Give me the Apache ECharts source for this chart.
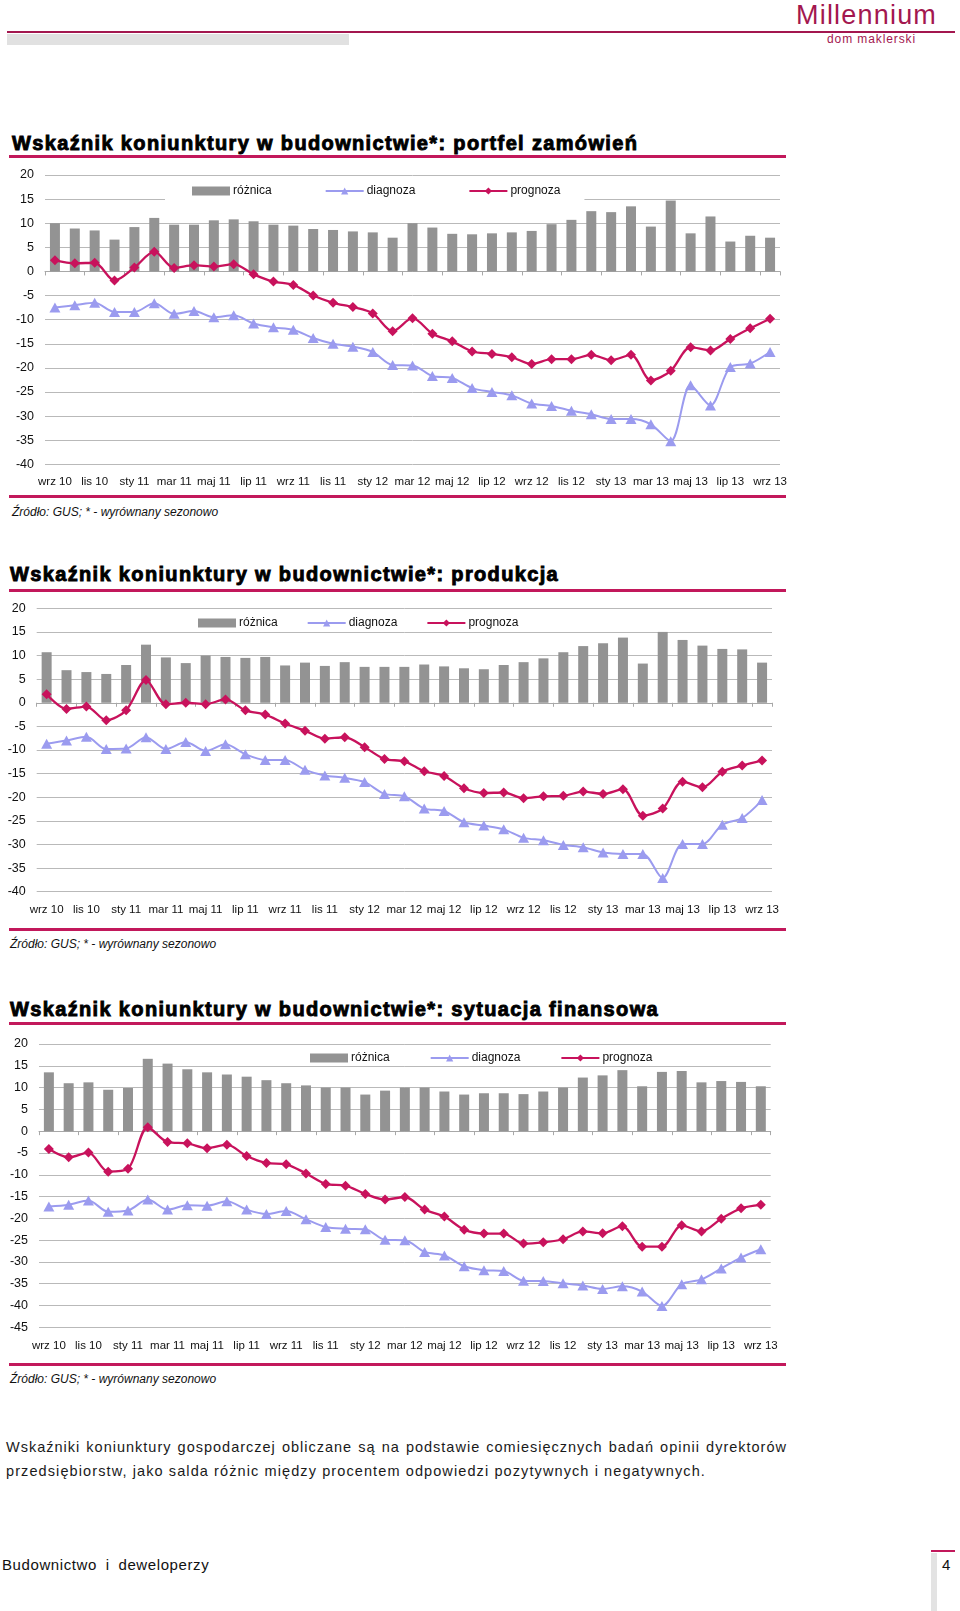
<!DOCTYPE html>
<html>
<head>
<meta charset="utf-8">
<script src="https://cdn.jsdelivr.net/npm/echarts@6/dist/echarts.min.js"></script>
<style>
  html, body { margin: 0; padding: 0; background: #fff; }
  body { width: 960px; height: 1611px; position: relative; overflow: hidden; font-family: 'Liberation Sans', Arial, sans-serif; color: #111; }
  .abs { position: absolute; }
  .title { font-size: 20px; font-weight: bold; letter-spacing: 1.35px; -webkit-text-stroke: 0.9px #000; color: #000; line-height: 24px; white-space: nowrap; }
  .mline { height: 3px; background: #c2185b; left: 9px; width: 777px; }
  .src { font-size: 12px; font-style: italic; line-height: 14px; white-space: nowrap; color: #111; }
  .chart { left: 0; width: 960px; height: 335px; }
</style>
</head>
<body>
<script>
// ---------------- DATA ----------------
const categories = [
  'wrz 10','paź 10','lis 10','gru 10','sty 11','lut 11','mar 11','kwi 11','maj 11','cze 11','lip 11','sie 11',
  'wrz 11','paź 11','lis 11','gru 11','sty 12','lut 12','mar 12','kwi 12','maj 12','cze 12','lip 12','sie 12',
  'wrz 12','paź 12','lis 12','gru 12','sty 13','lut 13','mar 13','kwi 13','maj 13','cze 13','lip 13','sie 13','wrz 13'
];
const seriesNames = ['różnica', 'diagnoza', 'prognoza'];

// Portfel zamówień
const portfelRoznica = [10.0, 8.9, 8.5, 6.6, 9.2, 11.1, 9.7, 9.7, 10.6, 10.8, 10.4, 9.7, 9.5, 8.8, 8.6, 8.3, 8.1, 7.0, 10.0, 9.1, 7.8, 7.7,
  7.9, 8.1, 8.4, 9.8, 10.7, 12.5, 12.3, 13.5, 9.3, 14.7, 7.9, 11.4, 6.2, 7.4, 7.0];
const portfelDiagnoza = [-7.5, -7.0, -6.5, -8.4, -8.4, -6.6, -8.8, -8.2, -9.5, -9.1, -10.8, -11.6, -12.1, -13.8, -15.0, -15.6, -16.7, -19.4, -19.5, -21.7, -22.1, -24.2,
  -25.0, -25.7, -27.4, -27.9, -28.9, -29.6, -30.6, -30.6, -31.7, -35.2, -23.6, -27.8, -19.8, -19.1, -16.7];
const portfelPrognoza = [2.3, 1.7, 1.8, -1.9, 0.8, 4.1, 0.7, 1.3, 1.0, 1.5, -0.6, -2.1, -2.8, -5.0, -6.5, -7.4, -8.7, -12.4, -9.7, -12.9, -14.5, -16.6,
  -17.1, -17.8, -19.2, -18.2, -18.2, -17.3, -18.4, -17.3, -22.6, -20.6, -15.7, -16.4, -14.0, -11.8, -9.8];

// Produkcja
const produkcjaRoznica = [10.7, 6.9, 6.5, 6.1, 8.0, 12.3, 9.6, 8.4, 10.0, 9.7, 9.5, 9.7, 7.9, 8.5, 7.8, 8.6, 7.6, 7.6, 7.6, 8.1, 7.7, 7.3,
  7.1, 8.0, 8.6, 9.4, 10.7, 12.0, 12.6, 13.8, 8.3, 15.0, 13.3, 12.1, 11.4, 11.3, 8.5];
const produkcjaDiagnoza = [-8.7, -8.0, -7.2, -9.8, -9.7, -7.3, -9.8, -8.3, -10.2, -8.8, -10.9, -12.1, -12.1, -14.2, -15.4, -15.9, -16.8, -19.3, -19.8, -22.4, -22.9, -25.3,
  -26.0, -26.8, -28.6, -29.1, -30.1, -30.6, -31.7, -32.0, -32.0, -37.1, -29.9, -29.9, -25.8, -24.4, -20.6];
const produkcjaPrognoza = [1.8, -1.3, -0.8, -3.7, -1.6, 4.8, -0.3, 0.0, -0.3, 0.7, -1.6, -2.5, -4.4, -5.9, -7.6, -7.3, -9.4, -11.9, -12.4, -14.5, -15.5, -18.1,
  -19.1, -19.0, -20.2, -19.8, -19.7, -18.8, -19.3, -18.3, -23.9, -22.4, -16.7, -17.9, -14.6, -13.3, -12.2];

// Sytuacja finansowa
const finanseRoznica = [13.5, 11.0, 11.2, 9.5, 9.9, 16.6, 15.5, 14.2, 13.5, 13.0, 12.5, 11.7, 11.0, 10.5, 10.0, 10.0, 8.4, 9.3, 10.0, 10.0, 9.1, 8.4,
  8.7, 8.7, 8.5, 9.1, 10.0, 12.3, 12.8, 14.0, 10.3, 13.6, 13.8, 11.2, 11.5, 11.3, 10.3];
const finanseDiagnoza = [-17.3, -16.9, -15.9, -18.5, -18.2, -15.7, -18.0, -17.0, -17.1, -16.1, -18.0, -19.0, -18.3, -20.2, -22.0, -22.4, -22.5, -24.9, -25.0, -27.7, -28.5, -31.0,
  -31.9, -32.1, -34.3, -34.4, -34.9, -35.4, -36.2, -35.6, -36.8, -40.1, -35.1, -34.0, -31.5, -29.0, -27.1];
const finansePrognoza = [-4.1, -6.0, -4.9, -9.3, -8.6, 0.9, -2.5, -2.8, -3.9, -3.1, -5.7, -7.3, -7.6, -9.7, -12.1, -12.5, -14.4, -15.7, -15.1, -18.0, -19.6, -22.6,
  -23.5, -23.5, -25.8, -25.5, -24.8, -23.0, -23.4, -21.8, -26.5, -26.5, -21.6, -23.0, -20.1, -17.7, -16.9];

const titles = [
  'Wskaźnik koniunktury w budownictwie*: portfel zamówień',
  'Wskaźnik koniunktury w budownictwie*: produkcja',
  'Wskaźnik koniunktury w budownictwie*: sytuacja finansowa'
];
const sourceText = 'Źródło: GUS; * - wyrównany sezonowo';
const noteLine1 = 'Wskaźniki koniunktury gospodarczej obliczane są na podstawie comiesięcznych badań opinii dyrektorów';
const noteLine2 = 'przedsiębiorstw, jako salda różnic między procentem odpowiedzi pozytywnych i negatywnych.';
const footerText = 'Budownictwo i deweloperzy';
const pageNumber = '4';
const logoMain = 'Millennium';
const logoSub = 'dom maklerski';

// ---------------- STATIC PAGE PARTS ----------------
function addDiv(cls, style, text) {
  const d = document.createElement('div');
  d.className = 'abs ' + (cls || '');
  Object.assign(d.style, style);
  if (text !== undefined) d.textContent = text;
  document.body.appendChild(d);
  return d;
}
// header
addDiv('', {left: '7px', top: '31px', width: '948px', height: '2px', background: '#a3174f'});
addDiv('', {left: '7px', top: '34px', width: '342px', height: '11px', background: '#e1e1e1'});
addDiv('', {left: '796px', top: '0px', fontSize: '27px', letterSpacing: '1.2px', color: '#a3174f', lineHeight: '30px', whiteSpace: 'nowrap'}, logoMain);
addDiv('', {left: '827px', top: '33px', fontSize: '12px', letterSpacing: '0.9px', color: '#a3174f', lineHeight: '12px', whiteSpace: 'nowrap'}, logoSub);

const layout = [
  {titleTop: 131, titleLeft: 12, ulTop: 155, blTop: 495, srcTop: 505, srcLeft: 12, chartTop: 165},
  {titleTop: 562, titleLeft: 10, ulTop: 589, blTop: 928, srcTop: 937, srcLeft: 10, chartTop: 598},
  {titleTop: 997, titleLeft: 10, ulTop: 1022, blTop: 1363, srcTop: 1372, srcLeft: 10, chartTop: 1034}
];
const chartDivs = layout.map((L, i) => {
  addDiv('title', {left: L.titleLeft + 'px', top: L.titleTop + 'px'}, titles[i]);
  addDiv('mline', {top: L.ulTop + 'px'});
  addDiv('mline', {top: L.blTop + 'px'});
  addDiv('src', {left: L.srcLeft + 'px', top: L.srcTop + 'px'}, sourceText);
  return addDiv('chart', {top: L.chartTop + 'px'});
});

addDiv('', {left: '6px', top: '1438px', width: '781px', fontSize: '14.5px', lineHeight: '18px', letterSpacing: '1px', textAlign: 'justify', textAlignLast: 'justify', color: '#1a1a1a'}, noteLine1);
addDiv('', {left: '6px', top: '1462px', fontSize: '14.5px', lineHeight: '18px', letterSpacing: '1.1px', whiteSpace: 'nowrap', color: '#1a1a1a'}, noteLine2);
addDiv('', {left: '2px', top: '1556px', fontSize: '15px', lineHeight: '18px', letterSpacing: '0.6px', wordSpacing: '4px', whiteSpace: 'nowrap', color: '#111'}, footerText);
addDiv('', {left: '931px', top: '1550px', width: '24px', height: '2px', background: '#c2185b'});
addDiv('', {left: '931px', top: '1553px', width: '6px', height: '58px', background: '#e3e3e3'});
addDiv('', {left: '942px', top: '1556px', fontSize: '15px', lineHeight: '18px', color: '#111'}, pageNumber);

// ---------------- CHARTS ----------------
const FONT = "'Liberation Sans', Arial, sans-serif";
const BAR = '#939393', DIAG = '#9b9bef', PROG = '#c8125c';

function buildOption(cfg) {
  return {
    animation: false,
    textStyle: {fontFamily: FONT},
    grid: cfg.grid,
    legend: Object.assign({
      orient: 'horizontal',
      itemWidth: 38, itemHeight: 9,
      textStyle: {fontFamily: FONT, fontSize: 12, color: '#111', padding: [0, 0, 0, -2]},
      data: [
        {name: seriesNames[0], icon: 'rect'},
        {name: seriesNames[1]},
        {name: seriesNames[2]}
      ]
    }, cfg.legend),
    xAxis: [
      {
        type: 'category', data: categories, position: 'bottom', boundaryGap: true,
        axisLine: {show: false, onZero: false}, axisTick: {show: false},
        axisLabel: {interval: 1, margin: cfg.labelMargin, fontFamily: FONT, fontSize: 11.5, color: '#111'}
      },
      {
        type: 'category', data: categories, position: 'bottom', boundaryGap: true,
        axisLine: {show: true, onZero: true, lineStyle: {color: '#a8a8a8', width: 1}},
        axisTick: {show: true, interval: 1, length: 4, lineStyle: {color: '#a8a8a8'}},
        axisLabel: {show: false}
      }
    ],
    yAxis: {
      type: 'value', min: cfg.ymin, max: 20, interval: 5,
      axisLine: {show: false}, axisTick: {show: false},
      axisLabel: {margin: 11, fontFamily: FONT, fontSize: 12.5, color: '#111'},
      splitLine: {lineStyle: {color: '#b9b9b9', width: 1}}
    },
    series: [
      {name: seriesNames[0], type: 'bar', xAxisIndex: 0, data: cfg.bars, barWidth: 10, itemStyle: {color: BAR}, z: 2},
      {name: seriesNames[1], type: 'line', xAxisIndex: 0, data: cfg.diag, smooth: 0.3,
        symbol: 'triangle', symbolSize: [11, 10], showSymbol: true,
        lineStyle: {color: DIAG, width: 2}, itemStyle: {color: DIAG}, z: 3},
      {name: seriesNames[2], type: 'line', xAxisIndex: 0, data: cfg.prog, smooth: 0.3,
        symbol: 'diamond', symbolSize: 10, showSymbol: true,
        lineStyle: {color: PROG, width: 2.3}, itemStyle: {color: PROG}, z: 4}
    ]
  };
}

const configs = [
  {
    grid: {left: 45, top: 10, width: 735, height: 289.3},
    ymin: -40, labelMargin: 12,
    legend: {left: 165, top: 15, itemGap: 53, backgroundColor: '#fff', padding: [5, 24, 7, 27]},
    bars: portfelRoznica, diag: portfelDiagnoza, prog: portfelPrognoza
  },
  {
    grid: {left: 36.7, top: 10.3, width: 735.3, height: 283.4},
    ymin: -40, labelMargin: 12.5,
    legend: {left: 198, top: 19, itemGap: 29, padding: 0},
    bars: produkcjaRoznica, diag: produkcjaDiagnoza, prog: produkcjaPrognoza
  },
  {
    grid: {left: 39, top: 10, width: 731.7, height: 283.3},
    ymin: -45, labelMargin: 12.5,
    legend: {left: 289, top: 15, itemGap: 40, backgroundColor: '#fff', padding: [3, 19, 2, 21]},
    bars: finanseRoznica, diag: finanseDiagnoza, prog: finansePrognoza
  }
];

configs.forEach((cfg, i) => {
  const ch = echarts.init(chartDivs[i], null, {renderer: 'canvas'});
  ch.setOption(buildOption(cfg));
});
</script>
</body>
</html>
